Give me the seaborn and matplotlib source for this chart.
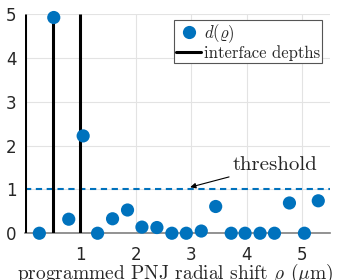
import matplotlib
matplotlib.use("Agg")
import matplotlib.pyplot as plt
import seaborn as sns
import pandas as pd
from matplotlib.lines import Line2D

sns.set_style("whitegrid")
plt.rcParams['mathtext.fontset'] = 'cm'

# data
rho = [0.26, 0.52, 0.79, 1.05, 1.31, 1.58, 1.85, 2.11, 2.38, 2.65,
       2.91, 3.18, 3.44, 3.72, 3.97, 4.24, 4.50, 4.77, 5.04, 5.29]
d = [0.0, 4.92, 0.32, 2.22, 0.0, 0.33, 0.53, 0.14, 0.13, 0.0,
     0.0, 0.05, 0.61, 0.0, 0.0, 0.0, 0.0, 0.69, 0.0, 0.74]
depths = [0.0, 0.5, 1.0]
threshold = 1.0
xticks = [1, 2, 3, 4, 5]
yticks = [0, 1, 2, 3, 4, 5]

df = pd.DataFrame({'rho': rho, 'd': d})
blue = '#0072BD'
serif = 'cmr10'

fig = plt.figure(figsize=(3.37, 2.8), dpi=100)
ax = fig.add_axes([0.074, 0.167, 0.905, 0.783])

# interface depths
ax.vlines(depths, 0, 5, color='black', lw=2.2, zorder=3)

# d(rho) points
sns.scatterplot(data=df, x='rho', y='d', ax=ax, color=blue, s=90,
                edgecolor='none', zorder=4, legend=False, clip_on=False)

# threshold
ax.axhline(threshold, color=blue, lw=1.5, ls=(0, (3, 2.2)), zorder=2)
ax.annotate('threshold', xy=(2.98, 1.05), xytext=(3.74, 1.56),
            fontfamily=serif, fontsize=15, va='center', ha='left',
            arrowprops=dict(arrowstyle='-|>', color='black', lw=0.8,
                            mutation_scale=8, shrinkA=0, shrinkB=0))

ax.set_xlim(0, 5.5)
ax.set_ylim(0, 5)
ax.set_xticks(xticks)
ax.set_yticks(yticks)
ax.grid(True, color='#e3e3e3', lw=0.8)
ax.set_axisbelow(True)
for s in ['top', 'right', 'left']:
    ax.spines[s].set_visible(False)
ax.spines['bottom'].set_color('#808080')
ax.spines['bottom'].set_linewidth(1.2)
ax.tick_params(axis='both', labelsize=12, colors='#262626', length=0)
ax.tick_params(axis='x', pad=9)
ax.tick_params(axis='y', pad=6)

ax.set_xlabel(r'programmed PNJ radial shift $\varrho$ ($\mu$m)',
              fontfamily=serif, fontsize=14, color='#262626')
ax.set_ylabel('')
ax.xaxis.label.set_va('baseline')
ax.xaxis.set_label_coords(0.493, -0.21)

handles = [Line2D([], [], ls='none', marker='o', color=blue, ms=9.5, mec='none'),
           Line2D([], [], color='black', lw=2.2)]
leg = ax.legend(handles, [r'$d(\varrho)$', 'interface depths'],
                loc='upper right', bbox_to_anchor=(0.974, 0.973),
                prop={'family': serif, 'size': 12},
                frameon=True, fancybox=False, framealpha=1,
                edgecolor='#555555', borderpad=0.12, handlelength=1.5,
                handletextpad=0.15, labelspacing=0.02, borderaxespad=0)
leg.get_frame().set_linewidth(0.8)

fig.savefig('out.png', dpi=100)
